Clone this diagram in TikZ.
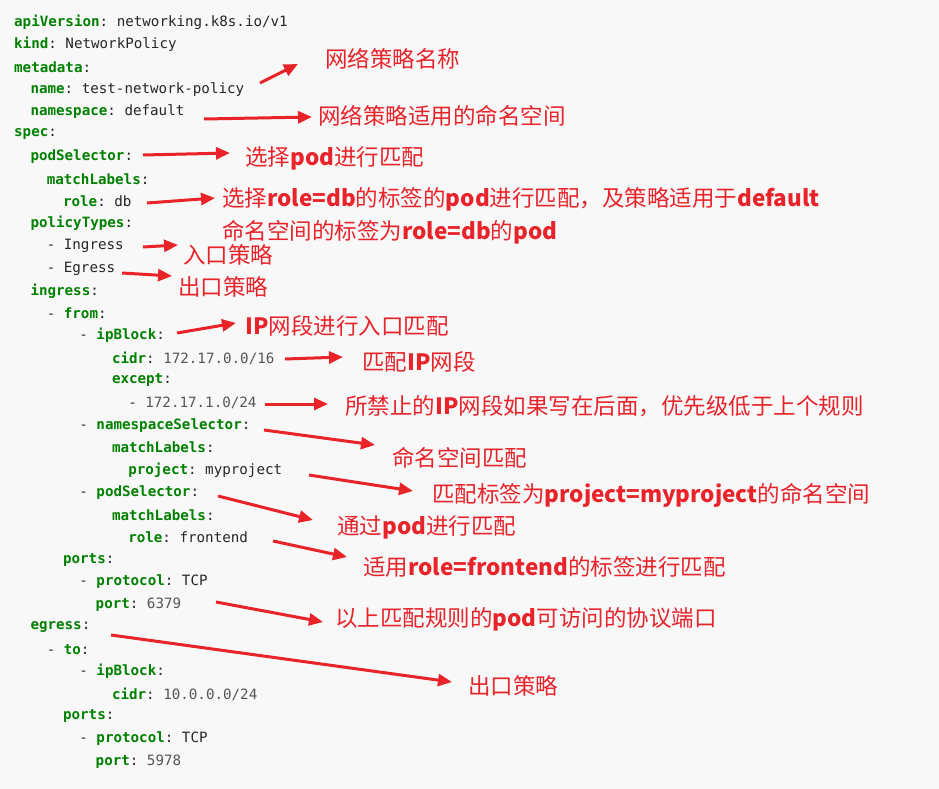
\documentclass[tikz,border=0pt]{standalone}
\usepackage{fontspec}
\setmonofont{DejaVu Sans Mono}
\newfontfamily\cjk{Noto Sans CJK SC}
\usetikzlibrary{arrows.meta}
\definecolor{kg}{HTML}{008000}
\definecolor{nm}{HTML}{555555}
\definecolor{rd}{HTML}{E8232A}
\definecolor{bg}{HTML}{F8F8F8}
\newcommand\K[1]{\textcolor{kg}{\bfseries #1}}
\newcommand\N[1]{\textcolor{nm}{#1}}
\tikzset{code/.style={anchor=west,inner sep=0pt,font=\ttfamily\fontsize{14.2}{16}\selectfont,text=black!85},
 note/.style={anchor=west,inner sep=0pt,font=\cjk\fontsize{22.5}{26}\selectfont,text=rd},
 arr/.style={draw=rd,line width=3pt,-{Triangle[length=14pt,width=12pt]}}}
\begin{document}
\begin{tikzpicture}[x=1pt,y=-1pt]
\fill[bg] (0,0) rectangle (939,789);
\useasboundingbox (0,0) rectangle (939,789);
\def\c{8.15}
\foreach \i/\t [count=\n from 0] in {0/{\K{apiVersion}: networking.k8s.io/v1},0/{\K{kind}: NetworkPolicy},0/{\K{metadata}:},2/{\K{name}: test-network-policy},2/{\K{namespace}: default},0/{\K{spec}:},2/{\K{podSelector}:},4/{\K{matchLabels}:},6/{\K{role}: db},2/{\K{policyTypes}:},4/{- Ingress},4/{- Egress},2/{\K{ingress}:},4/{- \K{from}:},8/{- \K{ipBlock}:},12/{\K{cidr}: \N{172.17.0.0/16}},12/{\K{except}:},14/{- \N{172.17.1.0/24}},8/{- \K{namespaceSelector}:},12/{\K{matchLabels}:},14/{\K{project}: myproject},8/{- \K{podSelector}:},12/{\K{matchLabels}:},14/{\K{role}: frontend},6/{\K{ports}:},8/{- \K{protocol}: TCP},10/{\K{port}: \N{6379}},2/{\K{egress}:},4/{- \K{to}:},8/{- \K{ipBlock}:},12/{\K{cidr}: \N{10.0.0.0/24}},6/{\K{ports}:},8/{- \K{protocol}: TCP},10/{\K{port}: \N{5978}}}
  \node[code] (l\n) at (14+\i*\c,22+\n*22.4) {\t};
% notes
\node[note] (n1) at (325,59) {网络策略名称};
\node[note] (n2) at (318,116) {网络策略适用的命名空间};
\node[note] (n3) at (245,158) {选择\textbf{pod}进行匹配};
\node[note] (n4) at (222,199) {选择\textbf{role=db}的标签的\textbf{pod}进行匹配，及策略适用于\textbf{default}};
\node[note] (n4b) at (222,232) {命名空间的标签为\textbf{role=db}的\textbf{pod}};
\node[note] (n5) at (183,255) {入口策略};
\node[note] (n6) at (178,287) {出口策略};
\node[note] (n7) at (245,326) {\textbf{IP}网段进行入口匹配};
\node[note] (n8) at (362,362) {匹配\textbf{IP}网段};
\node[note] (n9) at (345,406) {所禁止的\textbf{IP}网段如果写在后面，优先级低于上个规则};
\node[note] (n10) at (392,458) {命名空间匹配};
\node[note] (n11) at (432,495) {匹配标签为\textbf{project=myproject}的命名空间};
\node[note] (n12) at (337,527) {通过\textbf{pod}进行匹配};
\node[note] (n13) at (363,567) {适用\textbf{role=frontend}的标签进行匹配};
\node[note] (n14) at (335,619) {以上匹配规则的\textbf{pod}可访问的协议端口};
\node[note] (n15) at (468,686) {出口策略};
% arrows
\foreach \a/\b/\cc/\d [count=\k] in {260/83/298/64,204/119/312/117,143/155/230/153,147/203/215/198,143/247/178/245,122/273/172/276,177/333/236/323,285/359/343/357,265/404/328/404,264/430/375/445,309/475/413/491,218/496/313/520,273/541/347/557,216/602/323/622,111/635/452/682}{
  \coordinate (s\k) at (\a,\b); \coordinate (e\k) at (\cc,\d);
  \draw[arr] (s\k) -- (e\k);}
\end{tikzpicture}
\end{document}
